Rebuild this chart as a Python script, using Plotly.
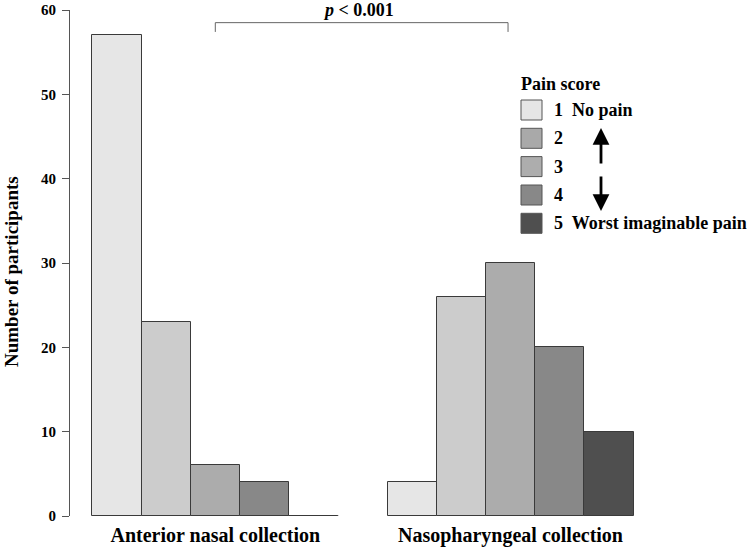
import plotly.graph_objects as go

# ---- data ----
groups = ["Anterior nasal collection", "Nasopharyngeal collection"]
scores = ["1", "2", "3", "4", "5"]
score_labels = ["1  No pain", "2", "3", "4", "5  Worst imaginable pain"]
anterior = [57, 23, 6, 4, 0]
nasopharyngeal = [4, 26, 30, 20, 10]
bar_colors = ["#e6e6e6", "#cccccc", "#acacac", "#888888", "#4f4f4f"]
legend_colors = ["#e6e6e6", "#a9a9a9", "#adadad", "#888888", "#4f4f4f"]
y_ticks = [0, 10, 20, 30, 40, 50, 60]
p_text = "<i>p</i> < 0.001"

W, H = 749, 547
ML = 70            # y-axis line at x=70
MT = 10            # y=60 at y=10
PLOT_BOTTOM = 516  # y=0 at y=516
PLOT_RIGHT = 740
MB = H - PLOT_BOTTOM
MR = W - PLOT_RIGHT
PW, PH = W - ML - MR, H - MT - MB
FONT = "Liberation Serif"


def px(x):
    return (x - ML) / PW


def py(y):
    return (H - MB - y) / PH


values = [anterior, nasopharyngeal]
group_offsets = [0, len(scores) + 1]

fig = go.Figure()
for i, s in enumerate(scores):
    xs = [off + i for off in group_offsets]
    ys = [vals[i] for vals in values]
    fig.add_trace(go.Bar(
        x=xs, y=ys, width=1, name=s, showlegend=False,
        marker=dict(color=bar_colors[i], line=dict(color="#3a3a3a", width=1)),
    ))
    # zero-height bars drawn as their outline
    for xv, yv in zip(xs, ys):
        if yv == 0:
            fig.add_trace(go.Scatter(
                x=[xv - 0.5, xv + 0.5], y=[yv, yv], mode="lines",
                line=dict(color="#3a3a3a", width=1.5), showlegend=False,
                hoverinfo="skip", cliponaxis=False))

group_centers = [off + (len(scores) - 1) / 2 for off in group_offsets]

BAR_PX = 49.2
x_lo = (ML - 116.9) / BAR_PX
x_hi = x_lo + PW / BAR_PX


def dx(x):
    return (x - x_lo) / (x_hi - x_lo)


# significance bracket
bx0, bx1 = 2, 7.95
fig.add_shape(type="path", xref="x", yref="y",
              path=f"M {bx0},57.4 L {bx0},58.5 L {bx1},58.5 L {bx1},57.4",
              line=dict(color="#666666", width=1))
fig.add_annotation(x=dx((bx0 + bx1) / 2) - 0.004, y=py(10), xref="paper", yref="paper",
                   text=p_text, showarrow=False, xanchor="center", yanchor="middle",
                   font=dict(family=FONT, size=18, color="black", weight="bold"))

# y axis title
fig.add_annotation(x=px(11), y=py(272), xref="paper", yref="paper",
                   text="Number of participants", textangle=-90, showarrow=False,
                   xanchor="center", yanchor="middle",
                   font=dict(family=FONT, size=19, color="black", weight="bold"))

# custom legend
fig.add_annotation(x=px(519), y=py(84), xref="paper", yref="paper", text="Pain score",
                   showarrow=False, xanchor="left", yanchor="middle",
                   font=dict(family=FONT, size=18, color="black", weight="bold"))
row_y = [110, 138.3, 166.6, 195, 223.3]
for i, lab in enumerate(score_labels):
    cy = row_y[i]
    fig.add_shape(type="rect", xref="paper", yref="paper",
                  x0=px(521), x1=px(542), y0=py(cy - 10), y1=py(cy + 10),
                  fillcolor=legend_colors[i], line=dict(color="#555555", width=1))
    fig.add_annotation(x=px(552), y=py(cy), xref="paper", yref="paper", text=lab,
                       showarrow=False, xanchor="left", yanchor="middle",
                       font=dict(family=FONT, size=18, color="black", weight="bold"))

# arrows
fig.add_annotation(x=px(601), y=py(128), xref="paper", yref="paper", text="",
                   showarrow=True, ax=0, ay=37, arrowhead=2, arrowsize=1.2,
                   arrowwidth=2.8, arrowcolor="black")
fig.add_annotation(x=px(601), y=py(211), xref="paper", yref="paper", text="",
                   showarrow=True, ax=0, ay=-36, arrowhead=2, arrowsize=1.2,
                   arrowwidth=2.8, arrowcolor="black")

fig.update_layout(
    width=W, height=H,
    margin=dict(l=ML, r=MR, t=MT, b=MB, autoexpand=False),
    paper_bgcolor="white", plot_bgcolor="white",
    barmode="overlay", bargap=0,
    font=dict(family=FONT, color="black"),
    xaxis=dict(range=[x_lo, x_hi], showline=False, showgrid=False, zeroline=False,
               tickvals=group_centers, ticktext=groups, ticks="", automargin=False,
               ticklabelstandoff=5, ticklabeloverflow="allow",
               tickfont=dict(family=FONT, size=20, color="black", weight="bold")),
    yaxis=dict(range=[0, 60], showline=True, linecolor="#555555", linewidth=1,
               showgrid=False, zeroline=False, ticks="outside", ticklen=7,
               tickcolor="#555555", tickvals=y_ticks, automargin=False,
               ticklabelstandoff=3, ticklabeloverflow="allow",
               tickfont=dict(family=FONT, size=15, color="black", weight="bold")),
)

fig.write_html("out.html", config={"displayModeBar": False},
               post_script="document.body.style.margin='0';")
